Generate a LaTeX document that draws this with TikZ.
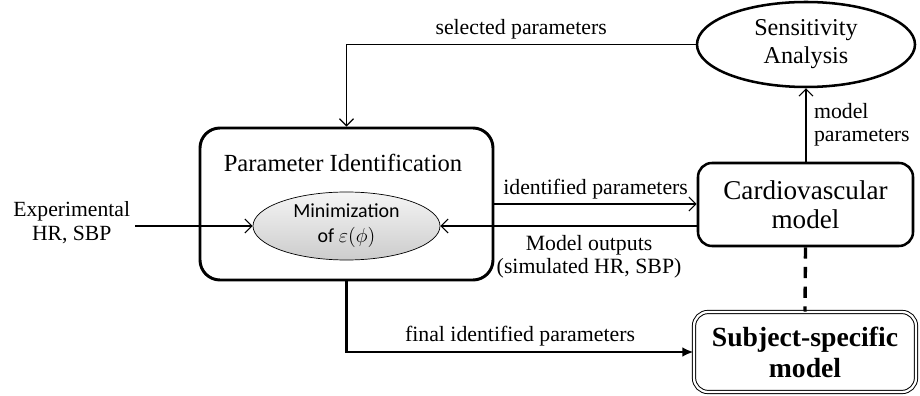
\documentclass[tikz,border=0pt]{standalone}
\usepackage{fontspec}
\setmainfont{Liberation Serif}
\newfontfamily\calibrifont{Carlito}
\usetikzlibrary{shapes.geometric, arrows.meta}
\tikzset{>=latex}
\tikzset{
    flow/.style={-{Straight Barb[length=5pt,width=10pt]}, line width=0.8pt},
    lbl/.style={font=\fontsize{15.5}{16.5}\selectfont, align=center},
}

\begin{document}
\begin{tikzpicture}
    \useasboundingbox (0,0) rectangle (23,9.9);

    % parameter identification block
    \node[draw, line width=2.1pt, rounded corners=0.5cm, minimum width=7.325cm, minimum height=3.8cm] (pid) at (8.6625,4.8) {};
    \node[font=\fontsize{17.5}{20}\selectfont] (pidtitle) at (8.575,5.825) {Parameter Identification};
    \node[ellipse, draw, line width=0.5pt, top color=gray!8, bottom color=gray!40, minimum width=4.675cm, minimum height=1.7cm, inner sep=0pt, align=center, font=\calibrifont\fontsize{14.2}{17.7}\selectfont] (mini) at (8.6625,4.25) {Minimization\\of $\varepsilon(\phi)$};

    \node[lbl, anchor=east, font=\fontsize{15.4}{17}\selectfont] (exp) at (3.375,4.325) {Experimental\\HR, SBP};

    % models
    \node[draw, line width=1.8pt, rounded corners=0.35cm, minimum width=5.375cm, minimum height=2.075cm, align=center, font=\fontsize{19.3}{21}\selectfont] (cvm) at (20.1375,4.7875) {Cardiovascular\\model};
    \node[ellipse, draw, line width=1.8pt, minimum width=5.45cm, minimum height=2.125cm, align=center, font=\fontsize{17.2}{20}\selectfont] (sens) at (20.15,8.7875) {Sensitivity\\Analysis};
    \node[draw, double, line width=0.7pt, double distance=1.6pt, rounded corners=0.35cm, minimum width=5.55cm, minimum height=2.0cm, align=center, font=\bfseries\fontsize{19.7}{22}\selectfont] (ssm) at (20.125,1.1) {Subject-specific\\model};

    % connectors
    \draw[flow] (exp.east |- mini.west) -- (mini.west);
    \draw[flow] (pid.east) -- (pid.east -| cvm.west) node[lbl, midway, above] {identified parameters};
    \draw[flow] (cvm.west |- mini.east) -- (mini.east) node[lbl, pos=0.42, below, yshift=-3pt] {Model outputs\\(simulated HR, SBP)};
    \draw[flow] (sens.south |- cvm.north) -- (sens.south) node[lbl, midway, right, align=left, xshift=2pt] {model\\parameters};
    \draw[flow] (sens.west) -- (sens.west -| pid.north) node[lbl, midway, above] {selected parameters} -- (pid.north);
    \draw[line width=2.4pt, dash pattern=on 8pt off 6pt] (cvm.south) -- (ssm.north);
    \draw[line width=2pt, -{Latex[length=8pt,width=7pt]}] (pid.south) -- (pid.south |- ssm.west) -- (ssm.west) node[lbl, midway, above] {final identified parameters};
\end{tikzpicture}
\end{document}
